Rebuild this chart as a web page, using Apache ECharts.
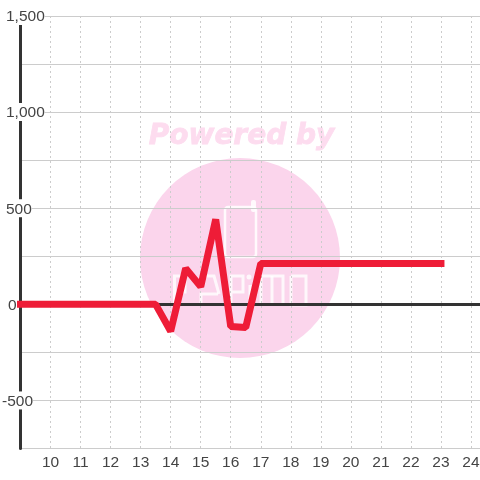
<!DOCTYPE html>
<html lang="en">
<head>
    <meta charset="UTF-8">
    <title>Line chart</title>
    <script src="https://cdn.jsdelivr.net/npm/echarts@6/dist/echarts.min.js"></script>
    <style>
        html, body { margin: 0; padding: 0; background: #fff; }
        #chart { width: 480px; height: 480px; }
    </style>
</head>
<body>
<div id="chart"></div>
<script type="text/javascript">
    var hours = [9, 10, 11, 12, 13, 13.5, 14, 14.5, 15, 15.5, 16, 16.5, 17, 18, 19, 20, 21, 22, 23];
    var values = [0, 0, 0, 0, 0, 0, -140, 187, 92, 442, -115, -120, 212, 212, 212, 212, 212, 212, 212];
    var yLabels = [-500, 0, 500, 1000, 1500];

    var pink = '#fbd5ec';
    //strokes of the logo lettering in the watermark
    var logoStrokes = [
        [[174.5, 305], [174.5, 276], [185, 276], [185, 292], [174.5, 292]],
        [[201, 305], [201, 294], [218, 294]],
        [[205, 276], [214, 276], [219, 294]],
        [[231, 305], [231, 276], [243, 276], [243, 292], [231, 292]],
        [[250, 285], [250, 305]],
        [[261, 305], [261, 276], [283, 276], [283, 305]],
        [[272, 276], [272, 305]],
        [[291, 276], [306, 276], [306, 305], [291, 305], [291, 276]]
    ];

    var myChart = echarts.init(document.getElementById('chart'));
    var labelBase = { fontSize: 15.5, color: '#444', backgroundColor: '#fff', lineHeight: 14 };

    //watermark, under the grid lines
    var watermark = [
        { type: 'circle', z: -1, shape: { cx: 240, cy: 258, r: 100 }, style: { fill: pink } },
        { type: 'text', z: -1, x: 241.5, y: 137, style: { text: 'Powered by', fill: '#fddcef', stroke: '#fddcef', lineWidth: 0.8, align: 'center', verticalAlign: 'middle', font: 'italic bold 28px "DejaVu Sans"' } },
        { type: 'rect', z: -1, shape: { x: 225, y: 207, width: 31, height: 50, r: 3 }, style: { fill: 'none', stroke: '#fff', lineWidth: 2.5, opacity: 0.85 } },
        { type: 'rect', z: -1, shape: { x: 251, y: 200, width: 5, height: 12, r: 2 }, style: { fill: '#fff', opacity: 0.85 } },
        { type: 'circle', z: -1, shape: { cx: 249, cy: 277, r: 2.5 }, style: { fill: '#fff', opacity: 0.8 } }
    ];
    logoStrokes.forEach(function (pts) {
        watermark.push({ type: 'polyline', z: -1, shape: { points: pts }, style: { fill: 'none', stroke: '#fff', lineWidth: 3, opacity: 0.8 } });
    });

    var option = {
        animation: false,
        backgroundColor: '#fff',
        textStyle: { fontFamily: 'Liberation Sans' },
        grid: { left: 20.5, right: 0, top: 16, bottom: 31.5, outerBoundsMode: 'none' },
        graphic: watermark,
        xAxis: [
            {
                type: 'value', min: 9, max: 24.3, interval: 1,
                axisLine: { onZero: false, show: false },
                axisTick: { show: false },
                axisLabel: {
                    fontSize: 15.5, color: '#444', margin: 6, showMinLabel: false, showMaxLabel: false
                },
                splitLine: { lineStyle: { color: '#ccc', type: [2, 3], width: 1 } }
            },
            {
                //zero line only
                type: 'value', min: 9, max: 24.3, interval: 1,
                axisLine: { onZero: true, lineStyle: { color: '#333', width: 3 } },
                axisTick: { show: false },
                axisLabel: { show: false },
                splitLine: { show: false }
            }
        ],
        yAxis: {
            type: 'value', min: -750, max: 1500, interval: 250,
            axisLine: { show: true, onZero: false, lineStyle: { color: '#333', width: 3 } },
            axisTick: { show: false },
            axisLabel: {
                align: 'left', margin: 18.5, showMinLabel: false,
                //labels sit over the axis line, the white box cuts it
                formatter: function (v) {
                    if (yLabels.indexOf(v) < 0) return '';
                    var tag = v === 0 ? 'zero' : (v < 0 ? 'neg' : 'pos');
                    return '{' + tag + '|' + echarts.format.addCommas(v) + '}';
                },
                rich: {
                    pos: Object.assign({ padding: [2, 0, 0, 4] }, labelBase),
                    neg: Object.assign({ padding: [2, 0, 0, 0] }, labelBase),
                    zero: Object.assign({ padding: [2, 0, 0, 6] }, labelBase, { backgroundColor: 'transparent' })
                }
            },
            splitLine: { lineStyle: { color: '#ccc', width: 1 } }
        },
        series: [{
            type: 'line',
            data: hours.map(function (h, i) { return [h, values[i]]; }),
            showSymbol: false,
            lineStyle: { color: '#ee1c37', width: 7, cap: 'square', join: 'bevel' }
        }]
    };
    myChart.setOption(option);
</script>
</body>
</html>
